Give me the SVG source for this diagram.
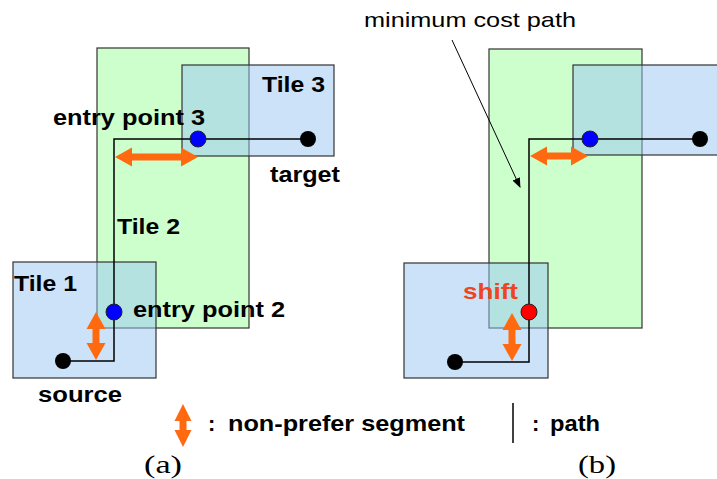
<svg xmlns="http://www.w3.org/2000/svg" width="717" height="479" viewBox="0 0 717 479">
<style>
.green{fill:#ccffcc;stroke:#333;stroke-width:1.2}
.blue{fill:#99c6f4;fill-opacity:0.5;stroke:#333;stroke-width:1.2}
.lbl{font-family:"Liberation Sans",Arial,sans-serif;font-weight:bold;font-size:22px;fill:#000}
.cap{font-family:"Liberation Serif","Times New Roman",serif;font-size:26px;fill:#000}
.path{fill:none;stroke:#000;stroke-width:1.5}
.dot{stroke:#222;stroke-width:1}
.orange{fill:#ff6a10}
</style>
<defs>
<marker id="ah" markerWidth="10" markerHeight="8" refX="9" refY="4" orient="auto" markerUnits="userSpaceOnUse">
<path d="M0,0 L10,4 L0,8 Z" fill="#000"/>
</marker>
</defs>

<!-- Panel (a) -->
<g id="a-tile2"><rect class="green" x="97" y="48" width="152" height="280"/>
<text class="lbl" x="117" y="234" textLength="63" lengthAdjust="spacingAndGlyphs">Tile 2</text></g>
<g id="a-tile3"><rect class="blue" x="182" y="65" width="152" height="91"/>
<text class="lbl" x="262" y="92" textLength="63" lengthAdjust="spacingAndGlyphs">Tile 3</text></g>
<g id="a-tile1"><rect class="blue" x="13" y="262" width="143" height="116"/>
<text class="lbl" x="14" y="291" textLength="63" lengthAdjust="spacingAndGlyphs">Tile 1</text></g>

<!-- Panel (b) -->
<g id="b-tile2"><rect class="green" x="489" y="49" width="153" height="279"/></g>
<g id="b-tile3"><rect class="blue" x="573" y="65" width="152" height="90"/></g>
<g id="b-tile1"><rect class="blue" x="404" y="263" width="144" height="115"/></g>

<g id="connectors">
<path class="path" d="M63 361 H114 V139 H308"/>
<path class="path" d="M455 362 H529 V139 H700"/>
<line x1="452" y1="40" x2="520" y2="187" stroke="#000" stroke-width="1" marker-end="url(#ah)"/>
<line x1="513" y1="403" x2="513" y2="443" stroke="#000" stroke-width="1.5"/>
</g>

<g id="non-prefer-arrows">
<polygon class="orange" points="115,157 132,147.5 132,153.5 181,153.5 181,147.5 198,157 181,166.5 181,160.5 132,160.5 132,166.5"/>
<polygon class="orange" points="96,312 105.5,329 99.5,329 99.5,343 105.5,343 96,360 86.5,343 92.5,343 92.5,329 86.5,329"/>
<polygon class="orange" points="530,156 547,146.5 547,152.5 571,152.5 571,146.5 588,156 571,165.5 571,159.5 547,159.5 547,165.5"/>
<polygon class="orange" points="512,313 521.5,330 515.5,330 515.5,344 521.5,344 512,361 502.5,344 508.5,344 508.5,330 502.5,330"/>
<polygon class="orange" points="183,404 191.5,421 186.5,421 186.5,430 191.5,430 183,447 174.5,430 179.5,430 179.5,421 174.5,421"/>
</g>

<g id="a-source"><circle cx="63" cy="361" r="8" fill="#000"/>
<text class="lbl" x="38" y="402" textLength="84" lengthAdjust="spacingAndGlyphs">source</text></g>
<g id="a-target"><circle cx="308" cy="139" r="8" fill="#000"/>
<text class="lbl" x="270" y="182" textLength="70" lengthAdjust="spacingAndGlyphs">target</text></g>
<g id="a-entry3"><circle class="dot" cx="198" cy="139" r="8" fill="#0000ff"/>
<text class="lbl" x="53" y="125" textLength="152" lengthAdjust="spacingAndGlyphs">entry point 3</text></g>
<g id="a-entry2"><circle class="dot" cx="114" cy="312" r="8" fill="#0000ff"/>
<text class="lbl" x="133" y="317" textLength="152" lengthAdjust="spacingAndGlyphs">entry point 2</text></g>

<g id="b-source"><circle cx="455" cy="362" r="8" fill="#000"/></g>
<g id="b-target"><circle cx="700" cy="139" r="8" fill="#000"/></g>
<g id="b-entry3"><circle class="dot" cx="590" cy="139" r="8" fill="#0000ff"/></g>
<g id="b-shift"><circle class="dot" cx="529" cy="312" r="8" fill="#ff0000"/>
<text class="lbl" x="463" y="299" fill="#ee4422" style="fill:#ee4422" textLength="55" lengthAdjust="spacingAndGlyphs">shift</text></g>

<g id="b-note"><text x="364" y="27" font-family="'Liberation Sans',Arial,sans-serif" font-size="21" fill="#000" textLength="212" lengthAdjust="spacingAndGlyphs">minimum cost path</text></g>

<g id="legend">
<text class="lbl" x="208" y="431">:</text>
<text class="lbl" x="228" y="431" textLength="237" lengthAdjust="spacingAndGlyphs">non-prefer segment</text>
<text class="lbl" x="532" y="431">:</text>
<text class="lbl" x="550" y="431" textLength="50" lengthAdjust="spacingAndGlyphs">path</text>
</g>

<g id="captions">
<text class="cap" x="144" y="473" textLength="38" lengthAdjust="spacingAndGlyphs">(a)</text>
<text class="cap" x="578" y="473" textLength="38" lengthAdjust="spacingAndGlyphs">(b)</text>
</g>
</svg>
